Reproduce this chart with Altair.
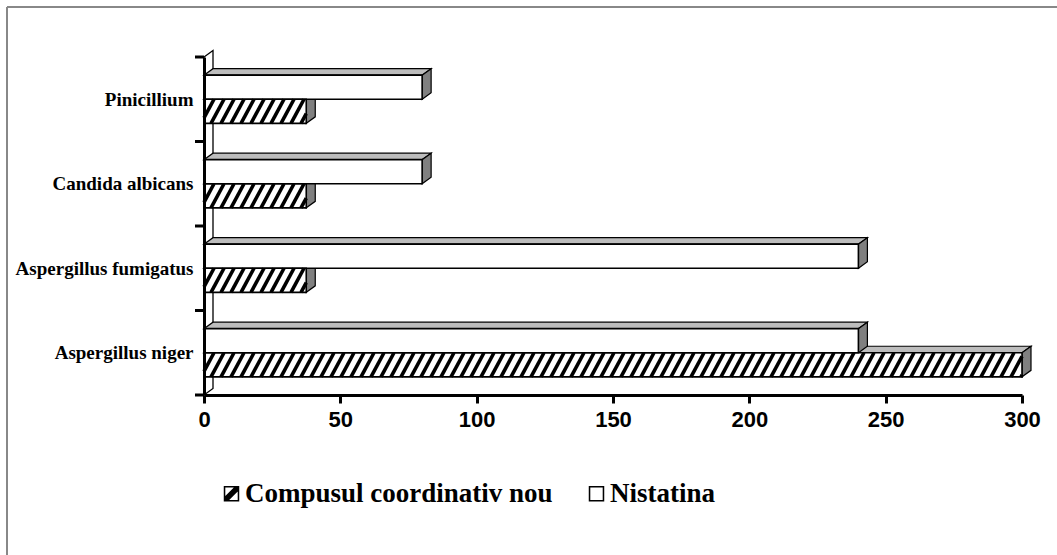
import json
import altair as alt
import pandas as pd

# ---------------- data ----------------
categories = ["Aspergillus niger", "Aspergillus fumigatus", "Candida albicans", "Pinicillium"]
compus_values = [300, 37.5, 37.5, 37.5]
nistatina_values = [240, 240, 80, 80]
series_names = ["Compusul coordinativ nou", "Nistatina"]
x_ticks = [0, 50, 100, 150, 200, 250, 300]

# ---------------- layout / style ----------------
W, H = 818, 338
X_DOM = [0, 300]
Y_DOM = [-0.5, len(categories) - 0.5]
BAR = 0.285                      # bar thickness in category units
px_x = W / (X_DOM[1] - X_DOM[0])
px_y = H / (Y_DOM[1] - Y_DOM[0])
DX = 9 / px_x                    # 3-D depth, expressed in data units
DY = 6.5 / px_y
HATCH_SPACING = 10 / px_x
HATCH_SLANT = 13 / px_x

# ---------------- derived tables ----------------
bars = []
for k, cat in enumerate(categories):
    bars.append(dict(cat=cat, series=series_names[0], v=compus_values[k], lo=k - BAR, hi=k))
    bars.append(dict(cat=cat, series=series_names[1], v=nistatina_values[k], lo=k, hi=k + BAR))

front_rows, top_rows, side_rows, hatch_rows = [], [], [], []
for i, b in enumerate(bars):
    v, lo, hi = b["v"], b["lo"], b["hi"]
    front_rows.append(dict(x=0, x2=v, y=lo, y2=hi, series=b["series"]))
    for x, y, y2 in [(0, hi, hi), (DX, hi, hi + DY), (v, hi, hi + DY), (v + DX, hi + DY, hi + DY)]:
        top_rows.append(dict(id=i, x=x, y=y, y2=y2))
    for y, x, x2 in [(lo, v, v), (lo + DY, v, v + DX), (hi, v, v + DX), (hi + DY, v + DX, v + DX)]:
        side_rows.append(dict(id=i, y=y, x=x, x2=x2))
    if b["series"] == series_names[0]:
        xb = -HATCH_SLANT
        while xb < v:
            t0 = max(0.0, (0 - xb) / HATCH_SLANT)
            t1 = min(1.0, (v - xb) / HATCH_SLANT)
            if t1 > t0:
                hatch_rows.append(dict(
                    x=xb + t0 * HATCH_SLANT, y=lo + t0 * (hi - lo),
                    x2=xb + t1 * HATCH_SLANT, y2=lo + t1 * (hi - lo)))
            xb += HATCH_SPACING

wall_rows = [
    dict(y=Y_DOM[0], x=0, x2=0),
    dict(y=Y_DOM[0] + DY, x=0, x2=DX),
    dict(y=Y_DOM[1], x=0, x2=DX),
    dict(y=Y_DOM[1] + DY, x=DX, x2=DX),
]
boundary_rows = [dict(y=Y_DOM[0] + i) for i in range(len(categories) + 1)]

front_df = pd.DataFrame(front_rows)
top_df = pd.DataFrame(top_rows)
side_df = pd.DataFrame(side_rows)
hatch_df = pd.DataFrame(hatch_rows)
wall_df = pd.DataFrame(wall_rows)
bound_df = pd.DataFrame(boundary_rows)
legend_df = pd.DataFrame({"series": series_names})

# ---------------- shared encodings ----------------
label_expr = json.dumps(categories) + "[round(datum.value)]"
x_scale = alt.Scale(domain=X_DOM, nice=False, zero=False)
y_scale = alt.Scale(domain=Y_DOM, nice=False, zero=False)
x_axis = alt.Axis(values=x_ticks, title=None, grid=False, domainColor="black", domainWidth=3,
                  tickColor="black", tickWidth=3, tickSize=8, labelFont="Liberation Sans",
                  labelFontWeight="bold", labelFontSize=22, labelColor="black", labelPadding=6,
                  labelFlush=False, zindex=1)
y_axis = alt.Axis(values=list(range(len(categories))), labelExpr=label_expr, title=None, grid=False,
                  ticks=False, domainColor="black", domainWidth=3, labelFont="Liberation Serif",
                  labelFontWeight="bold", labelFontSize=19, labelColor="black", labelPadding=11,
                  labelBaseline="middle", zindex=1)


def X(field="x"):
    return alt.X(f"{field}:Q", scale=x_scale, axis=x_axis, stack=None)


def Y(field="y"):
    return alt.Y(f"{field}:Q", scale=y_scale, axis=y_axis, stack=None)


wall = alt.Chart(wall_df).mark_area(orient="horizontal", fill="white", stroke="black",
                                    strokeWidth=1.3).encode(
    y=Y(), x=X(), x2="x2:Q")

tops = alt.Chart(top_df).mark_area(orient="vertical", fill="#bdbdbd", stroke="black",
                                   strokeWidth=1.2).encode(
    x=X(), y=Y(), y2="y2:Q", detail="id:N")

sides = alt.Chart(side_df).mark_area(orient="horizontal", fill="#808080", stroke="black",
                                     strokeWidth=1.2).encode(
    y=Y(), x=X(), x2="x2:Q", detail="id:N")

fronts = alt.Chart(front_df).mark_rect(fill="white", strokeWidth=0).encode(
    x=X(), x2="x2:Q", y=Y(), y2="y2:Q")

hatch = alt.Chart(hatch_df).mark_rule(color="black", strokeWidth=3.6, strokeCap="butt").encode(
    x=X(), x2="x2:Q", y=Y(), y2="y2:Q")

outlines = alt.Chart(front_df).mark_rect(fill="white", fillOpacity=0, stroke="black",
                                         strokeWidth=1.6).encode(
    x=X(), x2="x2:Q", y=Y(), y2="y2:Q")

ticks_y = alt.Chart(bound_df).mark_rule(color="black", strokeWidth=3).encode(
    x=alt.value(-9), x2=alt.value(0), y=Y())

# legend built from a shape scale with two custom symbols
BOX = "M-1,-1H1V1H-1Z M-0.8,-0.8V0.8H0.8V-0.8Z"
HATCHED = BOX + " M-0.8,0.8L-0.8,0.3L0.3,-0.8L0.8,-0.8L0.8,-0.3L-0.3,0.8Z"
legend_layer = alt.Chart(legend_df).mark_point(filled=True, opacity=0, color="black").encode(
    x=alt.value(0), y=alt.value(0),
    shape=alt.Shape("series:N",
                    scale=alt.Scale(domain=series_names, range=[HATCHED, BOX]),
                    legend=alt.Legend(orient="none", legendX=14, legendY=423, direction="horizontal",
                                      title=None, labelFont="Liberation Serif", labelFontWeight="bold",
                                      labelFontSize=27, labelColor="black", symbolSize=240,
                                      symbolOpacity=1, symbolFillColor="black", symbolStrokeWidth=0,
                                      labelOffset=0, columnPadding=30, padding=0, labelLimit=0)))

# outer gray frame (decoration)
frame_top = alt.Chart(legend_df).mark_rule(color="#888888", strokeWidth=2).encode(
    x=alt.value(-197), x2=alt.value(1057 - 204), y=alt.value(-50))
frame_left = alt.Chart(legend_df).mark_rule(color="#888888", strokeWidth=2).encode(
    x=alt.value(-197), y=alt.value(-50), y2=alt.value(555 - 57))

chart = alt.layer(
    wall, tops, sides, fronts, hatch, outlines, ticks_y, legend_layer, frame_top, frame_left
).properties(
    width=W, height=H,
    padding={"left": 204, "top": 57, "right": 1057 - 204 - W, "bottom": 555 - 57 - H},
    autosize=alt.AutoSizeParams(type="none"),
    background="white",
).configure_view(stroke=None)

chart.save("out.html", embed_options={"renderer": "svg", "actions": False})
